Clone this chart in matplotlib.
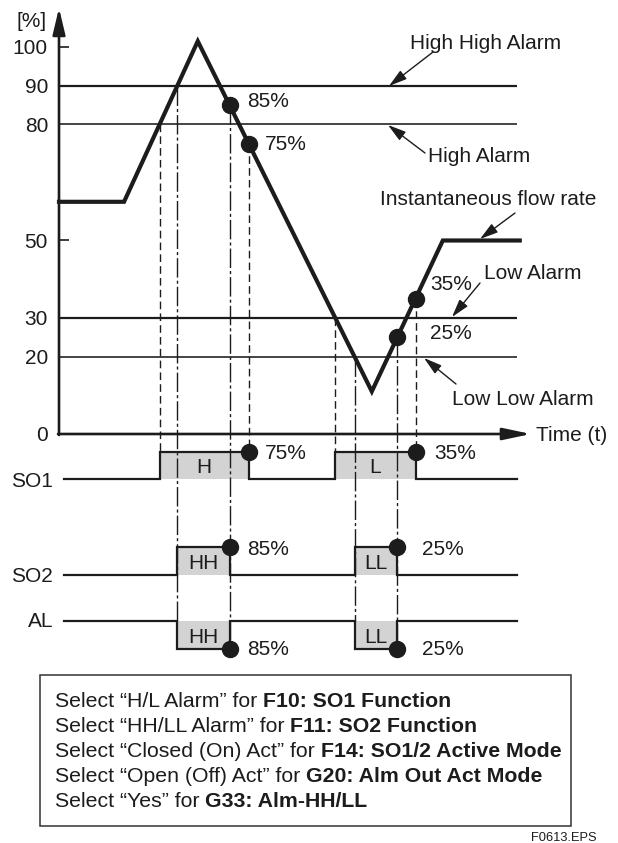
import numpy as np
import matplotlib
matplotlib.use('Agg')
import matplotlib.pyplot as plt

plt.rcParams['font.family'] = ['Liberation Sans', 'DejaVu Sans']

# ---------------- data ----------------
flow_t = [0, 14.2, 30.3, 68.3, 83.8, 100.6]      # time (arbitrary units)
flow_p = [60, 60, 101.5, 11, 50, 50]             # instantaneous flow rate [%]
tick_values = [100, 90, 80, 50, 30, 20, 0]
tick_marks = [100, 50]
alarm_levels = [90, 80, 30, 20]
hh_on, hh_off = 90, 85
h_on, h_off = 80, 75
l_on, l_off = 30, 35
ll_on, ll_off = 20, 25
time_end = 100
settings_plain = ['Select \u201cH/L Alarm\u201d for', 'Select \u201cHH/LL Alarm\u201d for',
                  'Select \u201cClosed (On) Act\u201d for', 'Select \u201cOpen (Off) Act\u201d for',
                  'Select \u201cYes\u201d for']
settings_bold = ['F10: SO1 Function', 'F11: SO2 Function', 'F14: SO1/2 Active Mode',
                 'G20: Alm Out Act Mode', 'G33: Alm-HH/LL']

# ---------------- layout ----------------
W, H = 618, 843
X0, SX = 59, 4.58
Y0, SY = 434, 3.87
INK = '#1c1c1c'
GRAY = '#d3d3d3'
FS = 15


def tx(px):
    return (px - X0) / SX


def py(ypx):
    return (Y0 - ypx) / SY


fig = plt.figure(figsize=(W / 100, H / 100), dpi=100)
ax = fig.add_axes([0, 0, 1, 1])
ax.axis('off')
ax.set_xlim(tx(0), tx(W))
ax.set_ylim(py(H), py(0))


def label(xpx, ypx, s, **kw):
    kw.setdefault('fontsize', FS)
    kw.setdefault('va', 'baseline')
    return ax.text(tx(xpx), py(ypx), s, color=INK, **kw)


def cross(level, up):
    for i in range(len(flow_t) - 1):
        a, b = flow_p[i], flow_p[i + 1]
        if (up and a < level <= b) or ((not up) and a > level >= b):
            return flow_t[i] + (level - a) * (flow_t[i + 1] - flow_t[i]) / (b - a)
    return None


t_h_on, t_h_off = cross(h_on, True), cross(h_off, False)
t_hh_on, t_hh_off = cross(hh_on, True), cross(hh_off, False)
t_l_on, t_l_off = cross(l_on, False), cross(l_off, True)
t_ll_on, t_ll_off = cross(ll_on, False), cross(ll_off, True)

# alarm level lines
for lev, lw in zip(alarm_levels, [1.6, 1.15, 1.6, 1.15]):
    ax.hlines(lev, 0, time_end, color=INK, lw=lw, zorder=3)

# axes with arrows
ax.annotate('', xy=(0, py(8)), xytext=(0, py(435)),
            arrowprops=dict(arrowstyle='-|>,head_length=1.6,head_width=0.38', lw=1.9,
                            color=INK, mutation_scale=10, shrinkA=0, shrinkB=0), zorder=4)
ax.annotate('', xy=(tx(531), 0), xytext=(tx(58), 0),
            arrowprops=dict(arrowstyle='-|>,head_length=1.7,head_width=0.36', lw=1.9,
                            color=INK, mutation_scale=10, shrinkA=0, shrinkB=0), zorder=4)
ax.hlines(tick_marks, 0, tx(69), color=INK, lw=1.2)
label(47, 27, '[%]', ha='right')
for v in tick_values:
    label(48, Y0 - v * SY + 7.5, str(v), ha='right')
label(536, 441, 'Time (t)')

# flow curve
ax.plot(flow_t, flow_p, color=INK, lw=3, solid_joinstyle='miter', zorder=5)

# signals
SO1_B, SO1_H = 479, 452
SO2_B, SO2_H = 575, 547
AL_B, AL_L = 621, 649


def signal(base_px, lvl_px, windows):
    b, h = py(base_px), py(lvl_px)
    xs, ys = [tx(64)], [b]
    for on, off in windows:
        xs += [on, on, off, off]
        ys += [b, h, h, b]
        ax.fill_between([on, off], b, h, color=GRAY, lw=0, zorder=1)
    xs.append(time_end)
    ys.append(b)
    ax.plot(xs, ys, color=INK, lw=1.6, solid_joinstyle='miter', zorder=3)


signal(SO1_B, SO1_H, [(t_h_on, t_h_off), (t_l_on, t_l_off)])
signal(SO2_B, SO2_H, [(t_hh_on, t_hh_off), (t_ll_on, t_ll_off)])
signal(AL_B, AL_L, [(t_hh_on, t_hh_off), (t_ll_on, t_ll_off)])

label(53, 487, 'SO1', ha='right')
label(53, 582, 'SO2', ha='right')
label(53, 627, 'AL', ha='right')

# guide lines
DASH = (0, (5.5, 3))
DDOT = (0, (14, 2.2, 2.2, 2.2))
guides = [
    (t_h_on, h_on, py(SO1_H), DASH),
    (t_h_off, h_off, py(SO1_H), DASH),
    (t_l_on, l_on, py(SO1_H), DASH),
    (t_l_off, l_off, py(SO1_H), DASH),
    (t_hh_on, hh_on, py(AL_B), DDOT),
    (t_hh_off, hh_off, py(AL_L), DDOT),
    (t_ll_on, ll_on, py(AL_B), DDOT),
    (t_ll_off, ll_off, py(AL_L), DDOT),
]
for t, top, bot, ls in guides:
    ax.plot([t, t], [top, bot], color=INK, lw=1.0, linestyle=ls, zorder=2)

# dots
MS = 11.5
dot_t = [t_hh_off, t_h_off, t_ll_off, t_l_off]
dot_p = [hh_off, h_off, ll_off, l_off]
ax.plot(dot_t, dot_p, 'o', ms=MS, color=INK, zorder=6)
ax.plot([t_h_off, t_l_off], [py(SO1_H)] * 2, 'o', ms=MS, color=INK, zorder=6)
ax.plot([t_hh_off, t_ll_off], [py(SO2_H)] * 2, 'o', ms=MS, color=INK, zorder=6)
ax.plot([t_hh_off, t_ll_off], [py(AL_L)] * 2, 'o', ms=MS, color=INK, zorder=6)

# percentage labels
label(247, 107, f'{hh_off}%')
label(265, 150, f'{h_off}%')
label(430, 290, f'{l_off}%')
label(430, 339, f'{ll_off}%')
label(265, 459, f'{h_off}%')
label(434, 459, f'{l_off}%')
label(247, 555, f'{hh_off}%')
label(422, 555, f'{ll_off}%')
label(247, 655, f'{hh_off}%')
label(422, 655, f'{ll_off}%')

# box letters
for (on, off), s in zip([(t_h_on, t_h_off), (t_l_on, t_l_off)], ['H', 'L']):
    ax.text((on + off) / 2, py((SO1_B + SO1_H) / 2 + 8), s, ha='center', va='baseline', fontsize=FS, color=INK)
for (on, off), s in zip([(t_hh_on, t_hh_off), (t_ll_on, t_ll_off)], ['HH', 'LL']):
    ax.text((on + off) / 2, py((SO2_B + SO2_H) / 2 + 8), s, ha='center', va='baseline', fontsize=FS, color=INK)
    ax.text((on + off) / 2, py((AL_B + AL_L) / 2 + 8), s, ha='center', va='baseline', fontsize=FS, color=INK)


# callouts
def callout(text, txt_px, ha, tail, head):
    label(txt_px[0], txt_px[1], text, ha=ha)
    ax.annotate('', xy=(tx(head[0]), py(head[1])), xytext=(tx(tail[0]), py(tail[1])),
                arrowprops=dict(arrowstyle='-|>,head_length=1.1,head_width=0.32', lw=1.0,
                                color=INK, mutation_scale=10, shrinkA=0, shrinkB=0), zorder=4)


callout('High High Alarm', (486, 49), 'center', (433, 52), (389, 86))
callout('High Alarm', (428, 162), 'left', (425, 153), (388, 125))
callout('Instantaneous flow rate', (488, 205), 'center', (515, 213), (480, 239))
callout('Low Alarm', (484, 279), 'left', (480, 283), (452, 317))
callout('Low Low Alarm', (452, 405), 'left', (456, 384), (424, 358))

# settings box
ax.add_patch(plt.Rectangle((tx(40), py(826)), tx(571) - tx(40), py(675) - py(826),
                           fill=False, ec='#333333', lw=1.1))
BFS = 15.3
renderer = fig.canvas.get_renderer()
sp1 = ax.text(0, 0, 'aa', fontsize=BFS)
sp2 = ax.text(0, 0, 'a a', fontsize=BFS)
space_w = sp2.get_window_extent(renderer).width - sp1.get_window_extent(renderer).width
sp1.remove()
sp2.remove()
for i, (pl, bd) in enumerate(zip(settings_plain, settings_bold)):
    ybase = 707 + 25 * i
    t1 = label(55, ybase, pl, fontsize=BFS)
    bb = t1.get_window_extent(renderer)
    xd = ax.transData.inverted().transform((bb.x1 + space_w, 0))[0]
    ax.text(xd, py(ybase), bd, fontsize=BFS, fontweight='bold', color=INK, va='baseline')

label(597, 841, 'F0613.EPS', ha='right', fontsize=9.3)

fig.savefig('out.png', dpi=100)
